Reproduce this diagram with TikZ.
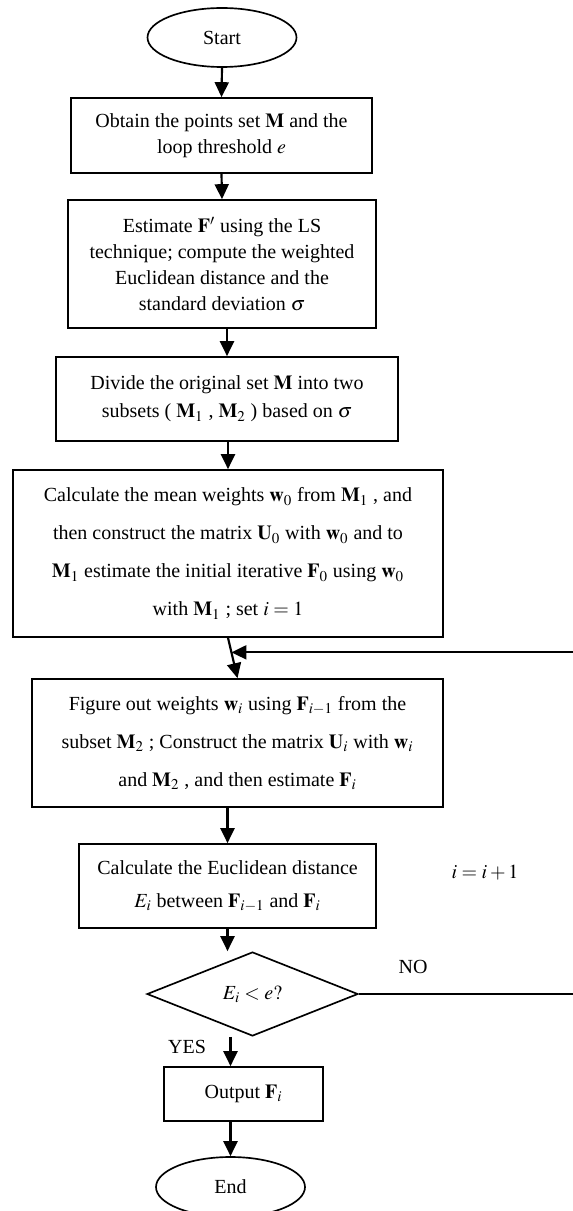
\documentclass[tikz,border=0pt]{standalone}
\usepackage{mathptmx}
\usepackage{fontspec}
\setmainfont{Liberation Serif}
\usetikzlibrary{arrows.meta,calc,shapes.geometric}

\begin{document}
\begin{tikzpicture}[x=0.6pt,y=-0.6pt,>={Triangle[length=9pt,width=8.4pt]}]

% ---------- styles ----------
\tikzset{
  flow/.style={->, line width=1.3pt},
  procbox/.style={draw, line width=1pt, align=center, inner sep=2pt,
    font=\fontsize{12}{15.5}\selectfont},
  widebox/.style={procbox, font=\fontsize{12}{22.8}\selectfont},
  terminal/.style={draw, ellipse, line width=1pt, inner sep=0pt,
    minimum width=89.4pt, minimum height=35.4pt,
    font=\fontsize{12}{14}\selectfont},
  decision/.style={draw, diamond, line width=1pt, inner sep=0pt,
    minimum width=126.6pt, minimum height=50.4pt,
    font=\fontsize{12}{14}\selectfont},
  note/.style={font=\fontsize{12}{14}\selectfont}
}

\useasboundingbox (0,0) rectangle (572,1211);

% ---------- terminals ----------
\node[terminal] (start) at (222,37.5) {Start};
\node[terminal, minimum height=36pt] (end) at (230.5,1187) {End};

% ---------- process boxes ----------
\node[procbox, minimum width=180.6pt, minimum height=45pt] (obtain) at (221.5,135.5)
  {Obtain the points set\ $\mathbf{M}$\ and the\\ loop threshold\ $e$};

\node[procbox, minimum width=184.8pt, minimum height=76.8pt] (estimate) at (222,264)
  {Estimate\ $\mathbf{F}'$\ using the LS\\ technique; compute the weighted\\
   Euclidean distance and the\\ standard deviation\ $\sigma$};

\node[procbox, minimum width=205.2pt, minimum height=50.4pt] (divide) at (227,399)
  {Divide the original set\ $\mathbf{M}$\ into two\\[1.5pt]
   subsets ( $\mathbf{M}_1$ , $\mathbf{M}_2$ ) based on\ $\sigma$};

\node[widebox, minimum width=258pt, minimum height=100.2pt] (mean) at (228,553.5)
  {Calculate the mean weights\ $\mathbf{w}_0$\ from\ $\mathbf{M}_1$ , and\\
   then construct the matrix\ $\mathbf{U}_0$\ with\ $\mathbf{w}_0$\ and to\\
   $\mathbf{M}_1$\ estimate the initial iterative\ $\mathbf{F}_0$\ using\ $\mathbf{w}_0$\\
   with\ $\mathbf{M}_1$ ; set\ $i=1$};

\node[widebox, minimum width=246.6pt, minimum height=76.8pt] (figure) at (237.5,743)
  {Figure out weights\ $\mathbf{w}_i$\ using\ $\mathbf{F}_{i-1}$\ from the\\
   subset\ $\mathbf{M}_2$ ; Construct the matrix\ $\mathbf{U}_i$\ with\ $\mathbf{w}_i$\\
   and\ $\mathbf{M}_2$ , and then estimate\ $\mathbf{F}_i$};

\node[procbox, minimum width=178.2pt, minimum height=50.4pt] (euclid) at (227.5,886)
  {Calculate the Euclidean distance\\[4.5pt]
   $E_i$ between\ $\mathbf{F}_{i-1}$\ and\ $\mathbf{F}_i$};

\node[decision] (check) at (252.5,994) {$E_i<e?$};

\node[procbox, minimum width=95.4pt, minimum height=32.4pt] (output) at (243.5,1094)
  {Output\ $\mathbf{F}_i$};

% ---------- labels ----------
\node[note] (inc) at (485,873) {$i=i+1$};
\node[note] (no) at (413,967) {NO};
\node[note] (yes) at (187,1047) {YES};

% ---------- connectors ----------
\coordinate (rail) at (576,994);
\coordinate (join) at ($(mean.south)!0.36!(figure.north)$);

\draw[flow] (start.south) -- (obtain.north);
\draw[flow] (obtain.south) -- (estimate.north);
\draw[flow] (divide.north |- estimate.south) -- (divide.north);
\draw[flow] (mean.north |- divide.south) -- (mean.north);
\draw[flow] (mean.south) -- (figure.north);
\draw[flow] (euclid.north |- figure.south) -- (euclid.north);
\draw[flow] (euclid.south) -- (euclid.south |- check.north);
\draw[flow] (end.north |- check.south) -- (end.north |- output.north);
\draw[flow] (end.north |- output.south) -- (end.north);

% loop back (NO branch)
\draw[flow] (check.east) -- (rail) |- (join);

\end{tikzpicture}
\end{document}
